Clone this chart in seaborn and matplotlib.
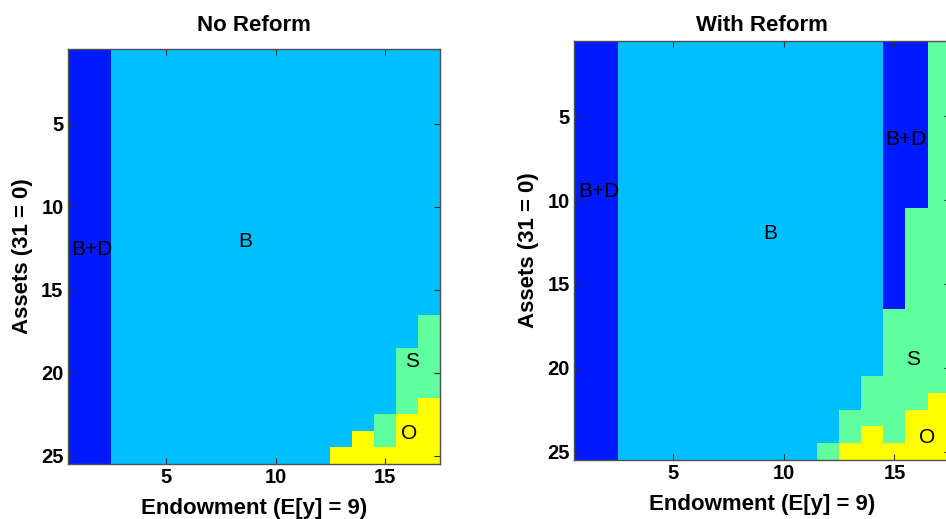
import numpy as np
import seaborn as sns
import matplotlib.pyplot as plt
from matplotlib.colors import ListedColormap

plt.rcParams['font.family'] = ['Liberation Sans', 'DejaVu Sans']

# regimes, in the order they appear from top (low assets index) to bottom
regimes = ["B+D", "B", "S", "O"]
regime_colors = ["#0019FF", "#00BFFF", "#60FFA0", "#FFFF00"]

# rows (assets 1..25) spent in each regime, for each endowment column 1..17
no_bd = [25, 25, 0, 0, 0, 0, 0, 0, 0, 0, 0, 0, 0, 0, 0, 0, 0]
no_b = [0, 0, 25, 25, 25, 25, 25, 25, 25, 25, 25, 25, 24, 23, 22, 18, 16]
no_s = [0, 0, 0, 0, 0, 0, 0, 0, 0, 0, 0, 0, 0, 0, 2, 4, 5]
no_o = [0, 0, 0, 0, 0, 0, 0, 0, 0, 0, 0, 0, 1, 2, 1, 3, 4]

wr_bd = [25, 25, 0, 0, 0, 0, 0, 0, 0, 0, 0, 0, 0, 0, 16, 10, 0]
wr_b = [0, 0, 25, 25, 25, 25, 25, 25, 25, 25, 25, 24, 22, 20, 0, 0, 0]
wr_s = [0, 0, 0, 0, 0, 0, 0, 0, 0, 0, 0, 1, 2, 3, 8, 12, 21]
wr_o = [0, 0, 0, 0, 0, 0, 0, 0, 0, 0, 0, 0, 1, 2, 1, 3, 4]

x_ticks = [5, 10, 15]
y_ticks = [5, 10, 15, 20, 25]


def build_grid(bd, b, s, o):
    cols = []
    for counts in zip(bd, b, s, o):
        cols.append(np.repeat(np.arange(len(regimes)), counts))
    return np.column_stack(cols)


def draw_panel(ax, grid, title, title_pad, labels):
    cmap = ListedColormap(regime_colors)
    sns.heatmap(grid, ax=ax, cmap=cmap, vmin=-0.5, vmax=3.5, cbar=False,
                xticklabels=False, yticklabels=False)

    # heatmap cell k spans k..k+1, matlab index k+1 sits at its centre
    ax.set_xticks([t - 0.5 for t in x_ticks])
    ax.set_xticklabels([str(t) for t in x_ticks])
    ax.set_yticks([t - 0.5 for t in y_ticks])
    ax.set_yticklabels([str(t) for t in y_ticks], rotation=0)

    ax.tick_params(direction='in', length=4, width=0.8, top=True, right=True,
                   labelsize=14.5, pad=3, color='#303030')
    for lab in ax.get_xticklabels() + ax.get_yticklabels():
        lab.set_fontweight('bold')
    for sp in ax.spines.values():
        sp.set_visible(True)
        sp.set_color('#505050')
        sp.set_linewidth(1)

    ax.set_xlabel('Endowment (E[y] = 9)', fontsize=16, fontweight='bold', labelpad=7.5)
    ax.set_ylabel('Assets (31 = 0)', fontsize=16, fontweight='bold', labelpad=6)
    ax.set_title(title, fontsize=16, fontweight='bold', pad=title_pad)

    for txt, x, y in labels:
        ax.text(x - 0.5, y - 0.5, txt, ha='left', va='center', fontsize=15)


fig = plt.figure(figsize=(9.46, 5.19), dpi=100)
ax1 = fig.add_axes([0.0716, 0.106, 0.3932, 0.7996])
ax2 = fig.add_axes([0.6068, 0.1137, 0.3971, 0.8079])

draw_panel(ax1, build_grid(no_bd, no_b, no_s, no_o), 'No Reform', 13,
           [('B+D', 0.65, 12.6), ('B', 8.28, 12.07), ('S', 15.9, 19.3), ('O', 15.75, 23.66)])
draw_panel(ax2, build_grid(wr_bd, wr_b, wr_s, wr_o), 'With Reform', 7,
           [('B+D', 0.69, 9.5), ('B+D', 14.6, 6.42), ('B', 9.05, 11.97),
            ('S', 15.52, 19.5), ('O', 16.1, 24.15)])

plt.savefig('out.png', dpi=100)
plt.close()
